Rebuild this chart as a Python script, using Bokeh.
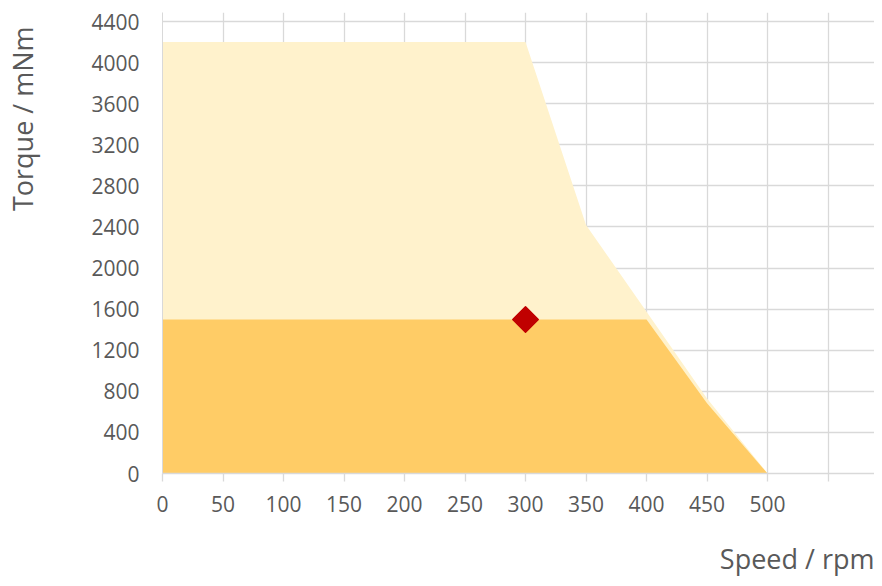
import math
from bokeh.plotting import figure
from bokeh.models import Range1d, FixedTicker
from bokeh.layouts import row, column
from bokeh.core.properties import value
from bokeh.embed import file_html
from bokeh.resources import INLINE

# ---- data ----
speed_max = [0, 300, 350, 450, 500]
torque_max = [4200, 4200, 2420, 730, 0]
speed_cont = [0, 400, 450, 500]
torque_cont = [1500, 1500, 685, 0]
op_speed = [300]
op_torque = [1500]
x_ticks = [0, 50, 100, 150, 200, 250, 300, 350, 400, 450, 500, 550]
x_tick_labels = ["0", "50", "100", "150", "200", "250", "300", "350", "400", "450", "500", ""]
y_ticks = [0, 400, 800, 1200, 1600, 2000, 2400, 2800, 3200, 3600, 4000, 4400]
x_title = "Speed / rpm"
y_title = "Torque / mNm"

FONT = "Open Sans"
TXT = "#595959"
GRID = "#D9D9D9"

TOP_H = 530      # height of the row holding the chart
YLAB_W = 44      # width of the strip holding the y title
XLAB_H = 48      # height of the strip holding the x title


def blank(width, height):
    f = figure(width=width, height=height, output_backend="svg",
               toolbar_location=None, x_range=Range1d(0, width),
               y_range=Range1d(0, height), x_axis_location=None,
               y_axis_location=None, min_border=0)
    f.outline_line_color = None
    f.grid.visible = False
    return f


# ---- y title strip ----
fy = blank(YLAB_W, TOP_H)
fy.text(x=[22], y=[TOP_H - 16], text=[y_title], angle=math.pi / 2,
        text_align="right", text_baseline="alphabetic",
        text_font=value(FONT), text_font_size="27px", text_color=TXT)

# ---- main chart ----
p = figure(width=874 - YLAB_W, height=TOP_H, output_backend="svg",
           toolbar_location=None,
           x_range=Range1d(0, 588.4), y_range=Range1d(0, 4488),
           min_border_left=162 - YLAB_W, min_border_right=0, min_border_top=12,
           min_border_bottom=TOP_H - 473)
p.outline_line_color = None
p.background_fill_color = "white"
p.border_fill_color = "white"

p.varea(x=speed_max, y1=0, y2=torque_max, fill_color="#FFF2CC")
p.varea(x=speed_cont, y1=0, y2=torque_cont, fill_color="#FFCC66")
p.scatter(x=op_speed, y=op_torque, marker="square", size=18, angle=math.pi / 4,
          fill_color="#C00000", line_color="#C00000", line_width=1.5,
          line_join="round")

p.xaxis.ticker = FixedTicker(ticks=x_ticks)
p.xaxis.major_label_overrides = {t: l for t, l in zip(x_ticks, x_tick_labels)}
p.yaxis.ticker = FixedTicker(ticks=y_ticks)
p.xgrid.ticker = FixedTicker(ticks=x_ticks)
p.ygrid.ticker = FixedTicker(ticks=y_ticks)
for g in (p.xgrid, p.ygrid):
    g.grid_line_color = GRID
    g.grid_line_width = 1.3

p.xaxis.axis_line_color = GRID
p.xaxis.axis_line_width = 1.5
p.xaxis.major_tick_line_color = GRID
p.xaxis.major_tick_line_width = 1.3
p.xaxis.major_tick_out = 8
p.xaxis.major_tick_in = 0
p.xaxis.minor_tick_line_color = None
p.xaxis.major_label_standoff = 14

p.yaxis.axis_line_color = GRID
p.yaxis.major_tick_line_color = None
p.yaxis.minor_tick_line_color = None
p.yaxis.major_tick_out = 0
p.yaxis.major_tick_in = 0
p.yaxis.major_label_standoff = 23

for ax in (p.xaxis, p.yaxis):
    ax.major_label_text_font = FONT
    ax.major_label_text_font_size = "21px"
    ax.major_label_text_color = TXT

# ---- x title strip ----
fx = blank(874, XLAB_H)
fx.text(x=[874], y=[20], text=[x_title], text_align="right",
        text_baseline="alphabetic", text_font=value(FONT),
        text_font_size="27px", text_color=TXT)

layout = column(row(fy, p, spacing=0), fx, spacing=0)

open("out.html", "w").write(file_html(layout, INLINE))
